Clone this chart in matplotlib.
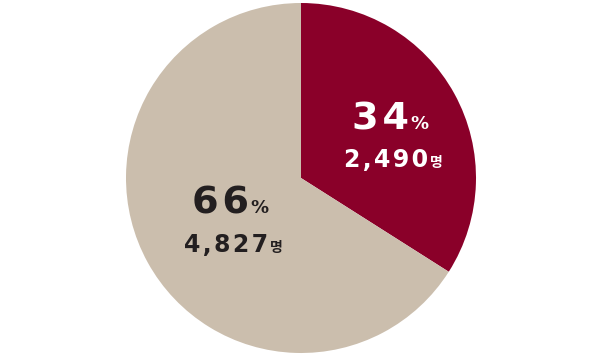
import matplotlib
matplotlib.use("Agg")
import matplotlib.pyplot as plt

categories = ["A", "B"]
percents = [34, 66]
counts = ["2,490", "4,827"]
colors = ["#8A0029", "#CBBEAD"]
text_colors = ["white", "#231F20"]

HS = "\u200a"  # hair space for letter spacing

fig = plt.figure(figsize=(6, 3.55), dpi=100)
ax = fig.add_axes([126/600, 2/355, 350/600, 350/355])
ax.pie(percents, colors=colors, startangle=90, counterclock=False,
       wedgeprops=dict(linewidth=0))
ax.set_xlim(-1, 1)
ax.set_ylim(-1, 1)
ax.set_aspect("equal")
ax.axis("off")

# label anchors (split x, baseline of big line, baseline of small line, split x of small line)
anchors = [(0.615, 0.28, 0.063, 0.726), (-0.30, -0.20, -0.423, -0.19)]
for pct, cnt, tc, (sx, by1, by2, sx2) in zip(percents, counts, text_colors, anchors):
    ax.text(sx, by1, HS.join(str(pct)), ha="right", va="baseline", color=tc,
            fontsize=27.5, fontweight="bold", family="DejaVu Sans")
    ax.text(sx + 0.008, by1, "%", ha="left", va="baseline", color=tc,
            fontsize=13, fontweight="bold", family="DejaVu Sans")
    ax.text(sx2, by2, HS.join(cnt), ha="right", va="baseline", color=tc,
            fontsize=17, fontweight="bold", family="DejaVu Sans")
    ax.text(sx2 + 0.012, by2, "명", ha="left", va="baseline", color=tc,
            fontsize=10, fontweight="bold", family=["Noto Sans CJK KR", "DejaVu Sans"])

fig.savefig("out.png", dpi=100, facecolor="white")
